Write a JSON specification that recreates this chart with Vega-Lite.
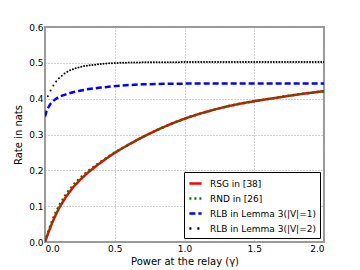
{
  "$schema": "https://vega.github.io/schema/vega-lite/v6.json",
  "width": 279,
  "height": 215,
  "autosize": {"type": "none"},
  "padding": {"left": 45, "top": 27, "right": 36, "bottom": 28},
  "background": "white",
  "config": {
    "font": "DejaVu Sans",
    "view": {"stroke": "#999999", "strokeWidth": 2},
    "axis": {
      "labelFont": "DejaVu Sans",
      "labelFontSize": 9,
      "labelColor": "#000000",
      "titleFont": "DejaVu Sans",
      "titleFontSize": 10,
      "titleFontWeight": "normal",
      "titleColor": "#000000",
      "domain": false,
      "ticks": false,
      "gridColor": "#a0a0a0",
      "gridDash": [1, 2],
      "gridWidth": 1,
      "gridOpacity": 1
    },
    "legend": {
      "labelFont": "DejaVu Sans",
      "labelFontSize": 9,
      "labelColor": "#000000"
    }
  },
  "data": {
    "values": [
      {"x": 0, "y": 0, "s": "RSG in [38]"},
      {"x": 0.025, "y": 0.027, "s": "RSG in [38]"},
      {"x": 0.05, "y": 0.052, "s": "RSG in [38]"},
      {"x": 0.075, "y": 0.074, "s": "RSG in [38]"},
      {"x": 0.1, "y": 0.094, "s": "RSG in [38]"},
      {"x": 0.15, "y": 0.126, "s": "RSG in [38]"},
      {"x": 0.2, "y": 0.152, "s": "RSG in [38]"},
      {"x": 0.25, "y": 0.173, "s": "RSG in [38]"},
      {"x": 0.3, "y": 0.191, "s": "RSG in [38]"},
      {"x": 0.35, "y": 0.207, "s": "RSG in [38]"},
      {"x": 0.4, "y": 0.222, "s": "RSG in [38]"},
      {"x": 0.5, "y": 0.249, "s": "RSG in [38]"},
      {"x": 0.6, "y": 0.272, "s": "RSG in [38]"},
      {"x": 0.7, "y": 0.293, "s": "RSG in [38]"},
      {"x": 0.8, "y": 0.312, "s": "RSG in [38]"},
      {"x": 0.9, "y": 0.329, "s": "RSG in [38]"},
      {"x": 1.0, "y": 0.344, "s": "RSG in [38]"},
      {"x": 1.1, "y": 0.357, "s": "RSG in [38]"},
      {"x": 1.2, "y": 0.368, "s": "RSG in [38]"},
      {"x": 1.3, "y": 0.378, "s": "RSG in [38]"},
      {"x": 1.4, "y": 0.386, "s": "RSG in [38]"},
      {"x": 1.5, "y": 0.393, "s": "RSG in [38]"},
      {"x": 1.6, "y": 0.399, "s": "RSG in [38]"},
      {"x": 1.7, "y": 0.405, "s": "RSG in [38]"},
      {"x": 1.8, "y": 0.411, "s": "RSG in [38]"},
      {"x": 1.9, "y": 0.416, "s": "RSG in [38]"},
      {"x": 2.0, "y": 0.421, "s": "RSG in [38]"},

      {"x": 0, "y": 0, "s": "RND in [26]"},
      {"x": 0.025, "y": 0.031, "s": "RND in [26]"},
      {"x": 0.05, "y": 0.058, "s": "RND in [26]"},
      {"x": 0.075, "y": 0.081, "s": "RND in [26]"},
      {"x": 0.1, "y": 0.101, "s": "RND in [26]"},
      {"x": 0.15, "y": 0.133, "s": "RND in [26]"},
      {"x": 0.2, "y": 0.158, "s": "RND in [26]"},
      {"x": 0.25, "y": 0.178, "s": "RND in [26]"},
      {"x": 0.3, "y": 0.195, "s": "RND in [26]"},
      {"x": 0.35, "y": 0.21, "s": "RND in [26]"},
      {"x": 0.4, "y": 0.224, "s": "RND in [26]"},
      {"x": 0.5, "y": 0.25, "s": "RND in [26]"},
      {"x": 0.6, "y": 0.272, "s": "RND in [26]"},
      {"x": 0.7, "y": 0.293, "s": "RND in [26]"},
      {"x": 0.8, "y": 0.312, "s": "RND in [26]"},
      {"x": 0.9, "y": 0.329, "s": "RND in [26]"},
      {"x": 1.0, "y": 0.344, "s": "RND in [26]"},
      {"x": 1.1, "y": 0.357, "s": "RND in [26]"},
      {"x": 1.2, "y": 0.368, "s": "RND in [26]"},
      {"x": 1.3, "y": 0.378, "s": "RND in [26]"},
      {"x": 1.4, "y": 0.386, "s": "RND in [26]"},
      {"x": 1.5, "y": 0.393, "s": "RND in [26]"},
      {"x": 1.6, "y": 0.399, "s": "RND in [26]"},
      {"x": 1.7, "y": 0.405, "s": "RND in [26]"},
      {"x": 1.8, "y": 0.411, "s": "RND in [26]"},
      {"x": 1.9, "y": 0.416, "s": "RND in [26]"},
      {"x": 2.0, "y": 0.421, "s": "RND in [26]"},

      {"x": 0, "y": 0.35, "s": "RLB in Lemma 3(|V|=1)"},
      {"x": 0.01, "y": 0.364, "s": "RLB in Lemma 3(|V|=1)"},
      {"x": 0.02, "y": 0.373, "s": "RLB in Lemma 3(|V|=1)"},
      {"x": 0.04, "y": 0.386, "s": "RLB in Lemma 3(|V|=1)"},
      {"x": 0.06, "y": 0.394, "s": "RLB in Lemma 3(|V|=1)"},
      {"x": 0.08, "y": 0.4, "s": "RLB in Lemma 3(|V|=1)"},
      {"x": 0.1, "y": 0.405, "s": "RLB in Lemma 3(|V|=1)"},
      {"x": 0.15, "y": 0.412, "s": "RLB in Lemma 3(|V|=1)"},
      {"x": 0.2, "y": 0.418, "s": "RLB in Lemma 3(|V|=1)"},
      {"x": 0.25, "y": 0.422, "s": "RLB in Lemma 3(|V|=1)"},
      {"x": 0.3, "y": 0.426, "s": "RLB in Lemma 3(|V|=1)"},
      {"x": 0.4, "y": 0.431, "s": "RLB in Lemma 3(|V|=1)"},
      {"x": 0.5, "y": 0.435, "s": "RLB in Lemma 3(|V|=1)"},
      {"x": 0.6, "y": 0.438, "s": "RLB in Lemma 3(|V|=1)"},
      {"x": 0.7, "y": 0.44, "s": "RLB in Lemma 3(|V|=1)"},
      {"x": 0.8, "y": 0.441, "s": "RLB in Lemma 3(|V|=1)"},
      {"x": 1.0, "y": 0.442, "s": "RLB in Lemma 3(|V|=1)"},
      {"x": 1.5, "y": 0.442, "s": "RLB in Lemma 3(|V|=1)"},
      {"x": 2.0, "y": 0.442, "s": "RLB in Lemma 3(|V|=1)"},

      {"x": 0.02, "y": 0.407, "s": "RLB in Lemma 3(|V|=2)"},
      {"x": 0.04, "y": 0.423, "s": "RLB in Lemma 3(|V|=2)"},
      {"x": 0.06, "y": 0.437, "s": "RLB in Lemma 3(|V|=2)"},
      {"x": 0.08, "y": 0.448, "s": "RLB in Lemma 3(|V|=2)"},
      {"x": 0.1, "y": 0.457, "s": "RLB in Lemma 3(|V|=2)"},
      {"x": 0.12, "y": 0.464, "s": "RLB in Lemma 3(|V|=2)"},
      {"x": 0.14, "y": 0.47, "s": "RLB in Lemma 3(|V|=2)"},
      {"x": 0.16, "y": 0.475, "s": "RLB in Lemma 3(|V|=2)"},
      {"x": 0.18, "y": 0.479, "s": "RLB in Lemma 3(|V|=2)"},
      {"x": 0.2, "y": 0.482, "s": "RLB in Lemma 3(|V|=2)"},
      {"x": 0.22, "y": 0.485, "s": "RLB in Lemma 3(|V|=2)"},
      {"x": 0.24, "y": 0.487, "s": "RLB in Lemma 3(|V|=2)"},
      {"x": 0.26, "y": 0.489, "s": "RLB in Lemma 3(|V|=2)"},
      {"x": 0.28, "y": 0.491, "s": "RLB in Lemma 3(|V|=2)"},
      {"x": 0.3, "y": 0.492, "s": "RLB in Lemma 3(|V|=2)"},
      {"x": 0.32, "y": 0.493, "s": "RLB in Lemma 3(|V|=2)"},
      {"x": 0.34, "y": 0.494, "s": "RLB in Lemma 3(|V|=2)"},
      {"x": 0.36, "y": 0.495, "s": "RLB in Lemma 3(|V|=2)"},
      {"x": 0.38, "y": 0.496, "s": "RLB in Lemma 3(|V|=2)"},
      {"x": 0.4, "y": 0.497, "s": "RLB in Lemma 3(|V|=2)"},
      {"x": 0.42, "y": 0.4975, "s": "RLB in Lemma 3(|V|=2)"},
      {"x": 0.44, "y": 0.498, "s": "RLB in Lemma 3(|V|=2)"},
      {"x": 0.46, "y": 0.4985, "s": "RLB in Lemma 3(|V|=2)"},
      {"x": 0.48, "y": 0.499, "s": "RLB in Lemma 3(|V|=2)"},
      {"x": 0.5, "y": 0.4995, "s": "RLB in Lemma 3(|V|=2)"},
      {"x": 0.52, "y": 0.4998, "s": "RLB in Lemma 3(|V|=2)"},
      {"x": 0.54, "y": 0.5, "s": "RLB in Lemma 3(|V|=2)"},
      {"x": 0.56, "y": 0.5003, "s": "RLB in Lemma 3(|V|=2)"},
      {"x": 0.58, "y": 0.5005, "s": "RLB in Lemma 3(|V|=2)"},
      {"x": 0.6, "y": 0.5007, "s": "RLB in Lemma 3(|V|=2)"},
      {"x": 0.62, "y": 0.5009, "s": "RLB in Lemma 3(|V|=2)"},
      {"x": 0.64, "y": 0.501, "s": "RLB in Lemma 3(|V|=2)"},
      {"x": 0.66, "y": 0.5011, "s": "RLB in Lemma 3(|V|=2)"},
      {"x": 0.68, "y": 0.5012, "s": "RLB in Lemma 3(|V|=2)"},
      {"x": 0.7, "y": 0.5013, "s": "RLB in Lemma 3(|V|=2)"},
      {"x": 0.72, "y": 0.5014, "s": "RLB in Lemma 3(|V|=2)"},
      {"x": 0.74, "y": 0.5015, "s": "RLB in Lemma 3(|V|=2)"},
      {"x": 0.76, "y": 0.5016, "s": "RLB in Lemma 3(|V|=2)"},
      {"x": 0.78, "y": 0.5016, "s": "RLB in Lemma 3(|V|=2)"},
      {"x": 0.8, "y": 0.5017, "s": "RLB in Lemma 3(|V|=2)"},
      {"x": 0.82, "y": 0.5017, "s": "RLB in Lemma 3(|V|=2)"},
      {"x": 0.84, "y": 0.5018, "s": "RLB in Lemma 3(|V|=2)"},
      {"x": 0.86, "y": 0.5018, "s": "RLB in Lemma 3(|V|=2)"},
      {"x": 0.88, "y": 0.5018, "s": "RLB in Lemma 3(|V|=2)"},
      {"x": 0.9, "y": 0.5019, "s": "RLB in Lemma 3(|V|=2)"},
      {"x": 0.92, "y": 0.5019, "s": "RLB in Lemma 3(|V|=2)"},
      {"x": 0.94, "y": 0.5019, "s": "RLB in Lemma 3(|V|=2)"},
      {"x": 0.96, "y": 0.5019, "s": "RLB in Lemma 3(|V|=2)"},
      {"x": 0.98, "y": 0.502, "s": "RLB in Lemma 3(|V|=2)"},
      {"x": 1.0, "y": 0.502, "s": "RLB in Lemma 3(|V|=2)"},
      {"x": 1.02, "y": 0.502, "s": "RLB in Lemma 3(|V|=2)"},
      {"x": 1.04, "y": 0.502, "s": "RLB in Lemma 3(|V|=2)"},
      {"x": 1.06, "y": 0.502, "s": "RLB in Lemma 3(|V|=2)"},
      {"x": 1.08, "y": 0.502, "s": "RLB in Lemma 3(|V|=2)"},
      {"x": 1.1, "y": 0.502, "s": "RLB in Lemma 3(|V|=2)"},
      {"x": 1.12, "y": 0.502, "s": "RLB in Lemma 3(|V|=2)"},
      {"x": 1.14, "y": 0.502, "s": "RLB in Lemma 3(|V|=2)"},
      {"x": 1.16, "y": 0.502, "s": "RLB in Lemma 3(|V|=2)"},
      {"x": 1.18, "y": 0.502, "s": "RLB in Lemma 3(|V|=2)"},
      {"x": 1.2, "y": 0.502, "s": "RLB in Lemma 3(|V|=2)"},
      {"x": 1.22, "y": 0.502, "s": "RLB in Lemma 3(|V|=2)"},
      {"x": 1.24, "y": 0.502, "s": "RLB in Lemma 3(|V|=2)"},
      {"x": 1.26, "y": 0.502, "s": "RLB in Lemma 3(|V|=2)"},
      {"x": 1.28, "y": 0.502, "s": "RLB in Lemma 3(|V|=2)"},
      {"x": 1.3, "y": 0.502, "s": "RLB in Lemma 3(|V|=2)"},
      {"x": 1.32, "y": 0.502, "s": "RLB in Lemma 3(|V|=2)"},
      {"x": 1.34, "y": 0.502, "s": "RLB in Lemma 3(|V|=2)"},
      {"x": 1.36, "y": 0.502, "s": "RLB in Lemma 3(|V|=2)"},
      {"x": 1.38, "y": 0.502, "s": "RLB in Lemma 3(|V|=2)"},
      {"x": 1.4, "y": 0.502, "s": "RLB in Lemma 3(|V|=2)"},
      {"x": 1.42, "y": 0.502, "s": "RLB in Lemma 3(|V|=2)"},
      {"x": 1.44, "y": 0.502, "s": "RLB in Lemma 3(|V|=2)"},
      {"x": 1.46, "y": 0.502, "s": "RLB in Lemma 3(|V|=2)"},
      {"x": 1.48, "y": 0.502, "s": "RLB in Lemma 3(|V|=2)"},
      {"x": 1.5, "y": 0.502, "s": "RLB in Lemma 3(|V|=2)"},
      {"x": 1.52, "y": 0.502, "s": "RLB in Lemma 3(|V|=2)"},
      {"x": 1.54, "y": 0.502, "s": "RLB in Lemma 3(|V|=2)"},
      {"x": 1.56, "y": 0.502, "s": "RLB in Lemma 3(|V|=2)"},
      {"x": 1.58, "y": 0.502, "s": "RLB in Lemma 3(|V|=2)"},
      {"x": 1.6, "y": 0.502, "s": "RLB in Lemma 3(|V|=2)"},
      {"x": 1.62, "y": 0.502, "s": "RLB in Lemma 3(|V|=2)"},
      {"x": 1.64, "y": 0.502, "s": "RLB in Lemma 3(|V|=2)"},
      {"x": 1.66, "y": 0.502, "s": "RLB in Lemma 3(|V|=2)"},
      {"x": 1.68, "y": 0.502, "s": "RLB in Lemma 3(|V|=2)"},
      {"x": 1.7, "y": 0.502, "s": "RLB in Lemma 3(|V|=2)"},
      {"x": 1.72, "y": 0.502, "s": "RLB in Lemma 3(|V|=2)"},
      {"x": 1.74, "y": 0.502, "s": "RLB in Lemma 3(|V|=2)"},
      {"x": 1.76, "y": 0.502, "s": "RLB in Lemma 3(|V|=2)"},
      {"x": 1.78, "y": 0.502, "s": "RLB in Lemma 3(|V|=2)"},
      {"x": 1.8, "y": 0.502, "s": "RLB in Lemma 3(|V|=2)"},
      {"x": 1.82, "y": 0.502, "s": "RLB in Lemma 3(|V|=2)"},
      {"x": 1.84, "y": 0.502, "s": "RLB in Lemma 3(|V|=2)"},
      {"x": 1.86, "y": 0.502, "s": "RLB in Lemma 3(|V|=2)"},
      {"x": 1.88, "y": 0.502, "s": "RLB in Lemma 3(|V|=2)"},
      {"x": 1.9, "y": 0.502, "s": "RLB in Lemma 3(|V|=2)"},
      {"x": 1.92, "y": 0.502, "s": "RLB in Lemma 3(|V|=2)"},
      {"x": 1.94, "y": 0.502, "s": "RLB in Lemma 3(|V|=2)"},
      {"x": 1.96, "y": 0.502, "s": "RLB in Lemma 3(|V|=2)"},
      {"x": 1.98, "y": 0.502, "s": "RLB in Lemma 3(|V|=2)"},
      {"x": 2.0, "y": 0.502, "s": "RLB in Lemma 3(|V|=2)"}
    ]
  },
  "encoding": {
    "x": {
      "field": "x",
      "type": "quantitative",
      "scale": {"domain": [0, 2], "nice": false},
      "axis": {"values": [0, 0.5, 1, 1.5, 2], "format": ".1f", "title": "Power at the relay (γ)", "labelPadding": 2, "titlePadding": 3}
    },
    "y": {
      "field": "y",
      "type": "quantitative",
      "scale": {"domain": [0, 0.6], "nice": false},
      "axis": {"values": [0, 0.1, 0.2, 0.3, 0.4, 0.5, 0.6], "format": ".1f", "title": "Rate in nats", "labelPadding": 2, "titlePadding": 5}
    }
  },
  "layer": [
    {
      "mark": {"type": "line", "strokeWidth": 2.5, "clip": true},
      "encoding": {
        "color": {
          "field": "s",
          "type": "nominal",
          "sort": ["RSG in [38]", "RND in [26]", "RLB in Lemma 3(|V|=1)", "RLB in Lemma 3(|V|=2)"],
          "scale": {
            "domain": ["RSG in [38]", "RND in [26]", "RLB in Lemma 3(|V|=1)", "RLB in Lemma 3(|V|=2)"],
            "range": ["#ff0000", "#008000", "#0000ff", "#000000"]
          },
          "legend": {
            "title": null,
            "orient": "bottom-right",
            "offset": 4,
            "fillColor": "white",
            "strokeColor": "#000000",
            "padding": 4,
            "cornerRadius": 0,
            "symbolType": "stroke",
            "symbolSize": 150,
            "symbolStrokeWidth": 2.5,
            "rowPadding": 2,
            "labelOffset": 7
          }
        },
        "strokeDash": {
          "field": "s",
          "type": "nominal",
          "scale": {
            "domain": ["RSG in [38]", "RND in [26]", "RLB in Lemma 3(|V|=1)", "RLB in Lemma 3(|V|=2)"],
            "range": [[1, 0], [2, 3], [6, 3], [2, 6]]
          },
          "legend": {"title": null}
        },
        "strokeOpacity": {
          "condition": {"test": "datum.s === 'RLB in Lemma 3(|V|=2)'", "value": 0},
          "value": 1
        }
      }
    },
    {
      "transform": [{"filter": "datum.s === 'RLB in Lemma 3(|V|=2)'"}],
      "mark": {"type": "point", "filled": true, "size": 4, "color": "#000000", "opacity": 1, "clip": true},
      "encoding": {}
    }
  ]
}
